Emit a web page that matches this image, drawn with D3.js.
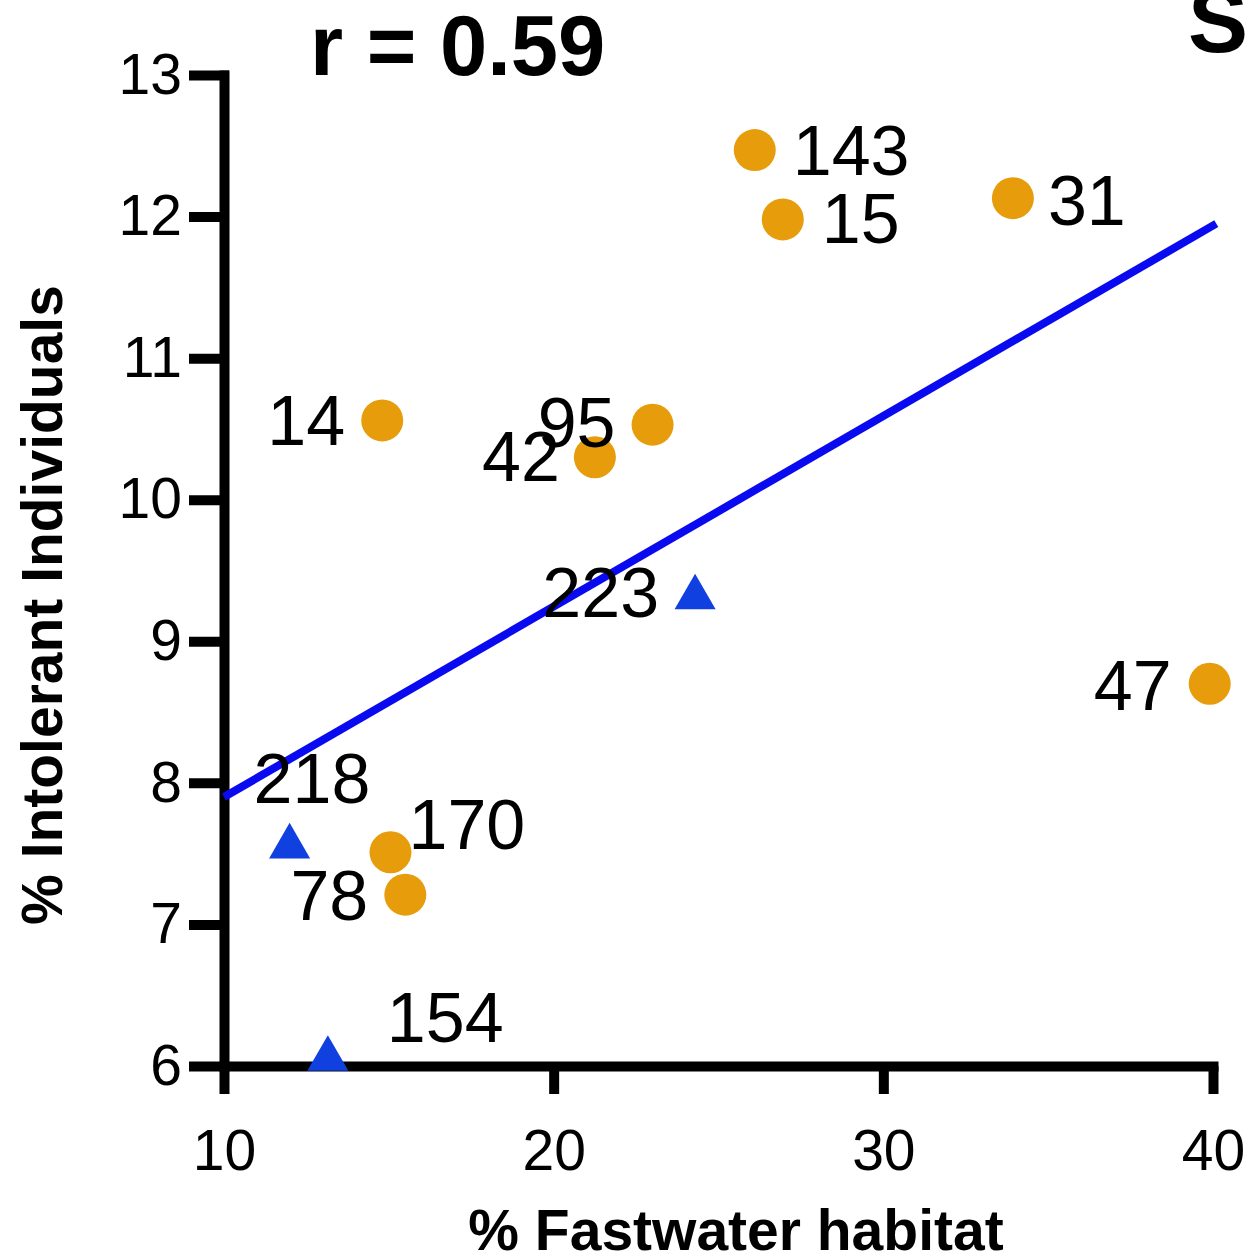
<!DOCTYPE html>
<html>
<head>
<meta charset="utf-8">
<script src="https://cdn.jsdelivr.net/npm/d3@7"></script>
<style>
  body { margin: 0; background: #fff; }
  text { font-family: "Liberation Sans", Arial, sans-serif; }
</style>
</head>
<body>
<script>
var width = 1251;
var height = 1257;

// sites (orange circles)
var circleSites = ['143', '15', '31', '14', '95', '42', '47', '170', '78'];
var circleX = [26.1, 26.95, 33.93, 14.8, 23.0, 21.25, 39.9, 15.05, 15.5];
var circleY = [12.47, 11.98, 12.13, 10.56, 10.53, 10.3, 8.7, 7.51, 7.21];

// sites (blue triangles)
var triSites = ['223', '218', '154'];
var triX = [24.29, 11.99, 13.15];
var triY = [9.31, 7.55, 6.05];

// fitted line ends
var fitX = [10, 40.1];
var fitY = [7.9, 11.95];

var xTicks = [10, 20, 30, 40];
var yTicks = [6, 7, 8, 9, 10, 11, 12, 13];

// label placement (px offsets from the mark, anchor)
var labelPos = {
    '143': [38, 25, 'start'], '15': [39, 24, 'start'], '31': [35, 27, 'start'],
    '14': [-37, 25, 'end'], '95': [-37, 22, 'end'], '42': [-35, 24, 'end'],
    '47': [-38, 26, 'end'], '170': [18, -3, 'start'], '78': [-37, 25, 'end'],
    '223': [-36, 20, 'end'], '218': [-36, -44, 'start'], '154': [59, -17, 'start']
};

var svg = d3.select('body')
    .append('svg')
    .attr('width', width)
    .attr('height', height);

var x = d3.scaleLinear().domain([10, 40]).range([224, 1213]);
var y = d3.scaleLinear().domain([6, 13]).range([1066, 75]);

// axes
var xAxis = svg.append('g')
    .attr('transform', 'translate(0,' + y(6) + ')')
    .call(d3.axisBottom(x).tickValues(xTicks).tickFormat(d3.format('d'))
        .tickSize(28).tickSizeOuter(0).tickPadding(36));
var yAxis = svg.append('g')
    .attr('transform', 'translate(' + x(10) + ',0)')
    .call(d3.axisLeft(y).tickValues(yTicks).tickFormat(d3.format('d'))
        .tickSize(30).tickSizeOuter(0).tickPadding(12));

[xAxis, yAxis].forEach(function(a) {
    a.select('.domain').attr('stroke', '#000').attr('stroke-width', 10).attr('stroke-linecap', 'square');
    a.selectAll('.tick line').attr('stroke', '#000').attr('stroke-width', 10);
    a.selectAll('.tick text')
        .attr('fill', '#000')
        .style('font-family', '"Liberation Sans", Arial, sans-serif')
        .style('font-size', '57px');
});
// top tick of y axis sits on the end of the spine
yAxis.selectAll('.tick line').attr('stroke-linecap', 'square');

// fit line
svg.append('line')
    .attr('x1', x(fitX[0])).attr('y1', y(fitY[0]))
    .attr('x2', x(fitX[1])).attr('y2', y(fitY[1]))
    .attr('stroke', '#0a0af0')
    .attr('stroke-width', 8);

var circles = circleSites.map(function(s, i) { return {site: s, x: circleX[i], y: circleY[i]}; });
var tris = triSites.map(function(s, i) { return {site: s, x: triX[i], y: triY[i]}; });

svg.append('g').selectAll('circle')
    .data(circles)
    .enter()
    .append('circle')
    .attr('cx', d => x(d.x))
    .attr('cy', d => y(d.y))
    .attr('r', 21)
    .attr('fill', '#e69c0b');

svg.append('g').selectAll('path')
    .data(tris)
    .enter()
    .append('path')
    .attr('d', d3.symbol().type(d3.symbolTriangle).size(730))
    .attr('transform', d => 'translate(' + x(d.x) + ',' + y(d.y) + ')')
    .attr('fill', '#1040e0');

svg.append('g').selectAll('text')
    .data(circles.concat(tris))
    .enter()
    .append('text')
    .attr('x', d => x(d.x) + labelPos[d.site][0])
    .attr('y', d => y(d.y) + labelPos[d.site][1])
    .attr('text-anchor', d => labelPos[d.site][2])
    .style('font-size', '70px')
    .attr('fill', '#000')
    .text(d => d.site);

// titles
svg.append('text')
    .attr('x', 310).attr('y', 75)
    .style('font-size', '85px').style('font-weight', 'bold')
    .text('r = 0.59');

svg.append('text')
    .attr('x', 1188).attr('y', 52)
    .style('font-size', '90px').style('font-weight', 'bold')
    .text('S');

svg.append('text')
    .attr('x', 736).attr('y', 1250)
    .attr('text-anchor', 'middle')
    .style('font-size', '57px').style('font-weight', 'bold')
    .text('% Fastwater habitat');

svg.append('text')
    .attr('transform', 'translate(62,605) rotate(-90)')
    .attr('text-anchor', 'middle')
    .style('font-size', '57px').style('font-weight', 'bold')
    .text('% Intolerant Individuals');
</script>
</body>
</html>
